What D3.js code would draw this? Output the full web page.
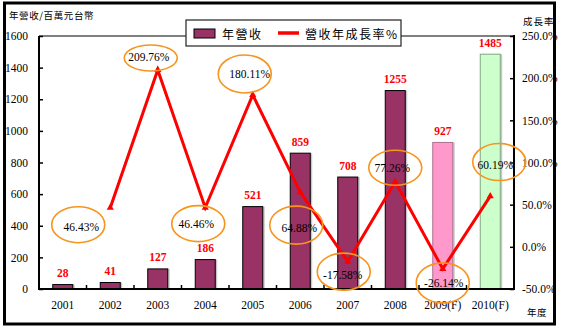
<!DOCTYPE html>
<html><head><meta charset="utf-8">
<script src="https://cdn.jsdelivr.net/npm/d3@7"></script>
<style>
html,body{margin:0;padding:0;background:#fff;}
svg{display:block;}
</style></head>
<body>
<svg id="chart" width="561" height="329"></svg>
<script>
// ---- data ----
const categories = ["2001","2002","2003","2004","2005","2006","2007","2008","2009(F)","2010(F)"];
const revenue = [28, 41, 127, 186, 521, 859, 708, 1255, 927, 1485];
const growth = [null, 46.43, 209.76, 46.46, 180.11, 64.88, -17.58, 77.26, -26.14, 60.19];
const leftTicks = [0,200,400,600,800,1000,1200,1400,1600];
const rightTicks = [-50,0,50,100,150,200,250];
const growthLabels = ["","46.43%","209.76%","46.46%","180.11%","64.88%","-17.58%","77.26%","-26.14%","60.19%"];

// annotation layout (offsets from the data point, in px)
const annot = [
  null,
  {dx:-32, dy:17, ry:18, tx:3, ty:2},
  {dx:-7, dy:-12, ry:13, tx:-2, ty:-1},
  {dx:-7, dy:16, ry:18, tx:-2, ty:0},
  {dx:-8, dy:-21, ry:19, tx:5, ty:0},
  {dx:-4, dy:33, ry:19, tx:3, ty:3},
  {dx:-4, dy:10, ry:18.5, tx:-1, ty:3},
  {dx:0, dy:-14, ry:17.5, tx:-3, ty:0},
  {dx:0, dy:14, ry:20, tx:1, ty:0},
  {dx:9, dy:-34, ry:18.5, tx:-4, ty:3}
];

const svg = d3.select("#chart");
const L = 39, R = 514, T = 36, B = 289;

const x = d3.scaleBand().domain(categories).range([L, R]).paddingInner(0).paddingOuter(0);
const yL = d3.scaleLinear().domain([0,1600]).range([B, T]);
const yR = d3.scaleLinear().domain([-50,250]).range([B, T]);

const serif = "'Liberation Serif','Times New Roman',serif";
const cjk = "'Noto Sans CJK TC','Noto Sans CJK SC',sans-serif";

// outer frame
svg.append("rect").attr("x",4.5).attr("y",3).attr("width",550).attr("height",321)
  .attr("fill","#fff").attr("stroke","#000").attr("stroke-width",3);

// plot top border (gray)
svg.append("line").attr("x1",L).attr("x2",R).attr("y1",T).attr("y2",T)
  .attr("stroke","#808080").attr("stroke-width",2);

// bars
const bw = 20;
const fills = categories.map((c,i)=> i===8 ? "#FF99CC" : i===9 ? "#CCFFCC" : "#993366");
const strokes = categories.map((c,i)=> i===8 ? "#B07090" : i===9 ? "#80A880" : "#000");
const bx = c => x(c) + x.bandwidth()/2 - bw/2;

svg.append("g").selectAll("rect").data(categories).join("rect")
  .attr("x", c => bx(c) + 2).attr("y", (c,i)=> yL(revenue[i]))
  .attr("width", bw).attr("height", (c,i)=> B - yL(revenue[i]))
  .attr("fill","#C8C8C8");
svg.append("g").selectAll("rect").data(categories).join("rect")
  .attr("x", c => bx(c)).attr("y", (c,i)=> yL(revenue[i]))
  .attr("width", bw).attr("height", (c,i)=> B - yL(revenue[i]))
  .attr("fill",(c,i)=>fills[i]).attr("stroke",(c,i)=>strokes[i]).attr("stroke-width",1);

// bar value labels
svg.append("g").selectAll("text").data(categories).join("text")
  .attr("x", c => x(c) + x.bandwidth()/2)
  .attr("y", (c,i)=> yL(revenue[i]) - 7.5)
  .attr("text-anchor","middle").attr("font-family",serif).attr("font-weight","bold")
  .attr("font-size",11.5).attr("fill","#FF0000")
  .text((c,i)=>revenue[i]);

// axes
const axL = svg.append("g").attr("transform",`translate(${L},0)`)
  .call(d3.axisLeft(yL).tickValues(leftTicks).tickSize(-4).tickPadding(11).tickFormat(d3.format("d")));
const axR = svg.append("g").attr("transform",`translate(${R},0)`)
  .call(d3.axisRight(yR).tickValues(rightTicks).tickSize(-4).tickPadding(8).tickFormat(d=>d.toFixed(1)+"%"));
const axB = svg.append("g").attr("transform",`translate(0,${B})`)
  .call(d3.axisBottom(x).tickSize(0).tickPadding(11.5));
[axL,axR,axB].forEach(g=>{
  g.selectAll(".domain").attr("stroke","#000").attr("stroke-width",2);
  g.selectAll(".tick line").attr("stroke","#000").attr("stroke-width",1.5);
  g.selectAll("text").attr("font-family",serif).attr("font-size",11.5).attr("fill","#000");
});
axL.select(".domain").attr("d",`M0,${T}V${B+1}`);
axR.select(".domain").attr("d",`M0,${T-1}V${B+1}`);
axB.select(".domain").attr("d",`M${L-1},0H${R+1}`);
// category boundary ticks
svg.append("g").selectAll("line").data(categories.slice(1)).join("line")
  .attr("x1", c=>x(c)).attr("x2", c=>x(c)).attr("y1", B).attr("y2", B-4)
  .attr("stroke","#000").attr("stroke-width",1.5);

// growth line
const pts = categories.map((c,i)=>({c, v:growth[i], i})).filter(d=>d.v!==null);
const line = d3.line().x(d=>x(d.c)+x.bandwidth()/2).y(d=>yR(d.v));
svg.append("path").datum(pts).attr("d",line).attr("fill","none")
  .attr("stroke","#FF0000").attr("stroke-width",3).attr("stroke-linejoin","miter");
svg.append("g").selectAll("path").data(pts).join("path")
  .attr("transform", d=>`translate(${x(d.c)+x.bandwidth()/2},${yR(d.v)})`)
  .attr("d", d3.symbol(d3.symbolTriangle, 22)())
  .attr("fill","#FF0000");

// annotations
const ag = svg.append("g");
pts.forEach(d=>{
  const a = annot[d.i];
  const cx = x(d.c)+x.bandwidth()/2 + a.dx, cy = yR(d.v) + a.dy;
  ag.append("ellipse").attr("cx",cx).attr("cy",cy).attr("rx",26.5).attr("ry",a.ry)
    .attr("fill","none").attr("stroke","#F7941D").attr("stroke-width",1.6);
  ag.append("text").attr("x",cx+a.tx).attr("y",cy+a.ty).attr("dy","0.35em")
    .attr("text-anchor","middle").attr("font-family",serif).attr("font-size",11.5)
    .attr("fill","#000").text(growthLabels[d.i]);
});

// legend
const lg = svg.append("g");
lg.append("rect").attr("x",186).attr("y",20).attr("width",215).attr("height",26)
  .attr("fill","#fff").attr("stroke","#222").attr("stroke-width",1.2);
lg.append("rect").attr("x",194).attr("y",29).attr("width",21).attr("height",9)
  .attr("fill","#993366").attr("stroke","#000").attr("stroke-width",1);
lg.append("text").attr("x",222).attr("y",38.5).attr("font-family",cjk).attr("font-size",12)
  .attr("letter-spacing",1.5).attr("fill","#000").text("年營收");
lg.append("line").attr("x1",278).attr("x2",299).attr("y1",33).attr("y2",33)
  .attr("stroke","#FF0000").attr("stroke-width",3.5);
lg.append("text").attr("x",305).attr("y",38.5).attr("font-family",cjk).attr("font-size",12)
  .attr("letter-spacing",1.5).attr("fill","#000").text("營收年成長率%");

// axis titles
svg.append("text").attr("x",9).attr("y",19).attr("font-family",cjk).attr("font-size",9.5)
  .attr("letter-spacing",0.6).attr("fill","#000").text("年營收/百萬元台幣");
svg.append("text").attr("x",523).attr("y",24.5).attr("font-family",cjk).attr("font-size",9.5)
  .attr("letter-spacing",1).attr("fill","#000").text("成長率");
svg.append("text").attr("x",527).attr("y",316).attr("font-family",cjk).attr("font-size",9.5)
  .attr("letter-spacing",0.5).attr("fill","#000").text("年度");
</script>
</body></html>
